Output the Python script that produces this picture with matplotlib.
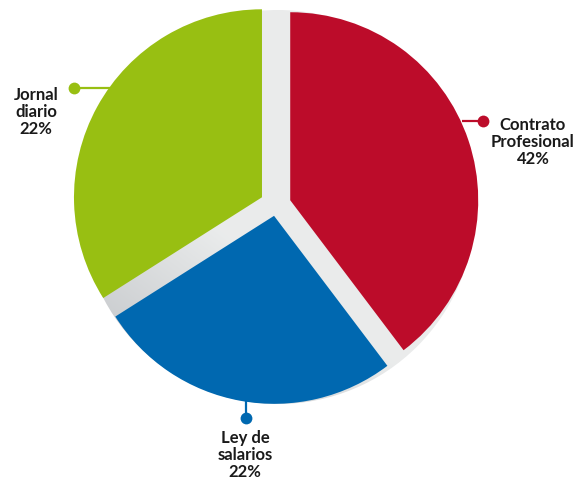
import numpy as np
import matplotlib
matplotlib.use("Agg")
import matplotlib.pyplot as plt
from matplotlib.patches import Circle

# slice shares as drawn (angles) and the printed labels
names = ["Contrato\nProfesional", "Ley de\nsalarios", "Jornal\ndiario"]
shares = [39.7, 26.3, 34.0]
pct_labels = ["42%", "22%", "22%"]
colors = ["#BC0C2A", "#0068B0", "#98BF12"]

W, H = 576, 483
cx, cy = 276, H - 205
R = 188

fig = plt.figure(figsize=(W / 100, H / 100), dpi=100)
ax = fig.add_axes([0, 0, 1, 1])

# grey disc behind the slices, a bit darker towards the lower left
yy, xx = np.mgrid[0:H, 0:W]
t = ((xx - cx) * 0.6 + (yy - cy) * 0.8) / 190.0
grad = np.clip(1.4 + 1.4 * t, 0, 1)
img = np.zeros((H, W, 3))
light = np.array([0.918, 0.925, 0.925])
dark = np.array([0.80, 0.81, 0.82])
for k in range(3):
    img[..., k] = dark[k] + (light[k] - dark[k]) * grad
im = ax.imshow(img, extent=(0, W, 0, H), origin="lower", zorder=0)
disc = Circle((cx + 2, cy - 2), 197, transform=ax.transData, facecolor="none", edgecolor="none")
ax.add_patch(disc)
im.set_clip_path(disc)

wedges, _ = ax.pie(shares, colors=colors, startangle=90, counterclock=False,
                   center=(cx, cy), radius=R, explode=[15, 11, 16],
                   wedgeprops=dict(linewidth=0, zorder=2))
for w in wedges:
    w.set_zorder(2)

ax.set_xlim(0, W)
ax.set_ylim(0, H)
ax.set_aspect("equal")
ax.axis("off")

font = dict(family=["Lato", "DejaVu Sans"], weight="bold",
            fontsize=12, color="#1a1a1a", ha="center", va="center",
            linespacing=1.1)

# leader lines: (start, dot) in image pixels, text centre
leaders = [((462, 121), (483, 121), (533, 142)),
           ((246, 400), (246, 418), (245, 455)),
           ((110, 88), (74, 88), (36, 112))]
for (p0, p1, tc), name, pct, col in zip(leaders, names, pct_labels, colors):
    ax.plot([p0[0], p1[0]], [H - p0[1], H - p1[1]], color=col, lw=1.6,
            zorder=3, solid_capstyle="butt")
    ax.plot(p1[0], H - p1[1], "o", color=col, ms=8.5, mec="none", zorder=4)
    ax.text(tc[0], H - tc[1], name + "\n" + pct, **font)

fig.savefig("out.png", dpi=100)
